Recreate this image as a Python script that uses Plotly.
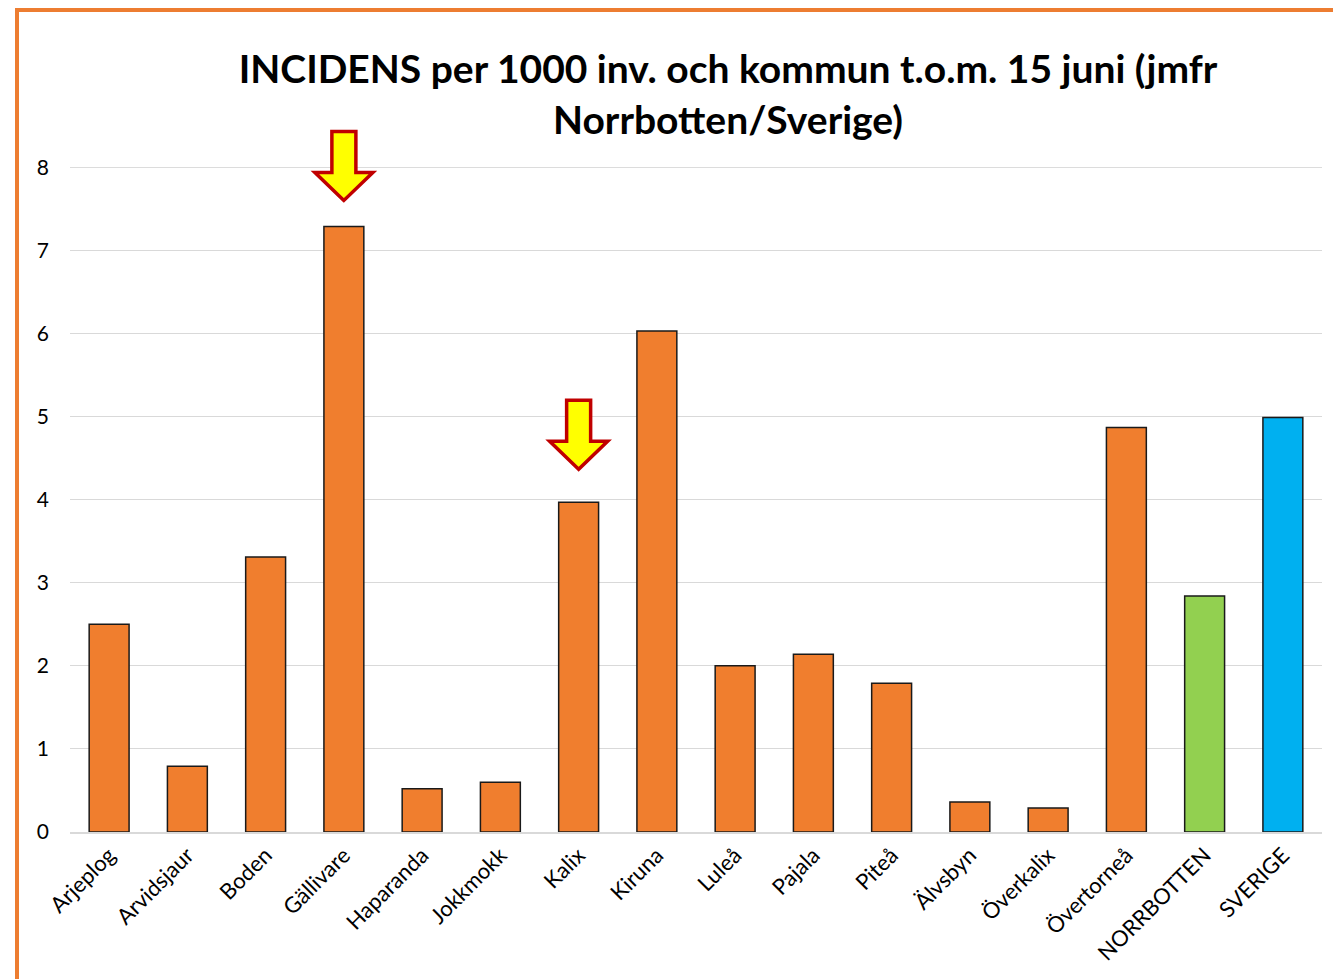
import plotly.graph_objects as go

kommuner = ["Arjeplog", "Arvidsjaur", "Boden", "Gällivare", "Haparanda", "Jokkmokk",
            "Kalix", "Kiruna", "Luleå", "Pajala", "Piteå", "Älvsbyn", "Överkalix",
            "Övertorneå", "NORRBOTTEN", "SVERIGE"]
incidens = [2.50, 0.79, 3.31, 7.29, 0.52, 0.60, 3.97, 6.03, 2.00, 2.14, 1.79,
            0.36, 0.29, 4.87, 2.84, 4.99]
bar_colors = ["#F07E2E"] * 14 + ["#92D050", "#00B0F0"]
pil_kommuner = ["Gällivare", "Kalix"]
pil_offset_px = [26, 33]
y_ticks = [0, 1, 2, 3, 4, 5, 6, 7, 8]
Y_MAX = 8.005

FONT = "Lato"

fig = go.Figure()
fig.add_trace(go.Bar(
    x=kommuner, y=incidens,
    marker=dict(color=bar_colors, line=dict(color="#1a1a1a", width=1.5)),
    width=0.51,
    hoverinfo="x+y",
))


def arrow_path(off):
    # tip at (0, off) pixels above anchor, pointing down; positive y = up
    pts = [(0, 0), (-29, 28), (-12, 28), (-12, 69), (12, 69), (12, 28), (29, 28)]
    s = "M " + " L ".join("%d %d" % (x, y + off) for x, y in pts) + " Z"
    return s


shapes = []
# top gridline (at max tick)
shapes.append(dict(type="line", xref="paper", yref="y", x0=0, x1=1,
                   y0=max(y_ticks), y1=max(y_ticks),
                   line=dict(color="#D9D9D9", width=1), layer="below"))
for k, off in zip(pil_kommuner, pil_offset_px):
    val = incidens[kommuner.index(k)]
    shapes.append(dict(
        type="path", xref="x", yref="paper",
        xsizemode="pixel", ysizemode="pixel",
        xanchor=kommuner.index(k), yanchor=val / Y_MAX,
        path=arrow_path(off),
        fillcolor="#FFFF00", line=dict(color="#C00000", width=3.5),
        layer="above",
    ))

# orange frame (left and top edge)
shapes.append(dict(type="line", xref="paper", yref="paper",
                   x0=(17 - 70) / 1252, x1=(17 - 70) / 1252,
                   y0=(832 - 990) / 665, y1=(832 - 8) / 665,
                   line=dict(color="#ED7D31", width=4)))
shapes.append(dict(type="line", xref="paper", yref="paper",
                   x0=(15 - 70) / 1252, x1=(1345 - 70) / 1252,
                   y0=(832 - 10) / 665, y1=(832 - 10) / 665,
                   line=dict(color="#ED7D31", width=4)))

fig.update_layout(
    width=1333, height=979,
    margin=dict(l=70, r=11, t=167, b=147),
    paper_bgcolor="white", plot_bgcolor="white",
    showlegend=False,
    title=dict(
        text="INCIDENS per 1000 inv. och kommun t.o.m. 15 juni (jmfr<br>Norrbotten/Sverige)",
        x=728 / 1333, xanchor="center", xref="container",
        y=1 - 83 / 979, yanchor="middle", yref="container",
        font=dict(family=FONT, size=39, color="black", weight="bold"),
    ),
    font=dict(family=FONT, color="black"),
    shapes=shapes,
    bargap=0.49,
)
fig.update_xaxes(
    type="category", tickangle=-45,
    tickfont=dict(family=FONT, size=22, color="black"),
    showline=True, linecolor="#D9D9D9", linewidth=1.5,
    showgrid=False, ticks="",
)
fig.update_yaxes(
    range=[0, Y_MAX], tickvals=y_ticks,
    tickfont=dict(family=FONT, size=21, color="black"),
    showgrid=True, gridcolor="#D9D9D9", gridwidth=1,
    zeroline=False, showline=False, ticks="",
    ticklabelstandoff=20,
)

fig.write_html("out.html", config={"displayModeBar": False},
               post_script="document.body.style.margin='0';document.body.style.overflow='hidden';")
